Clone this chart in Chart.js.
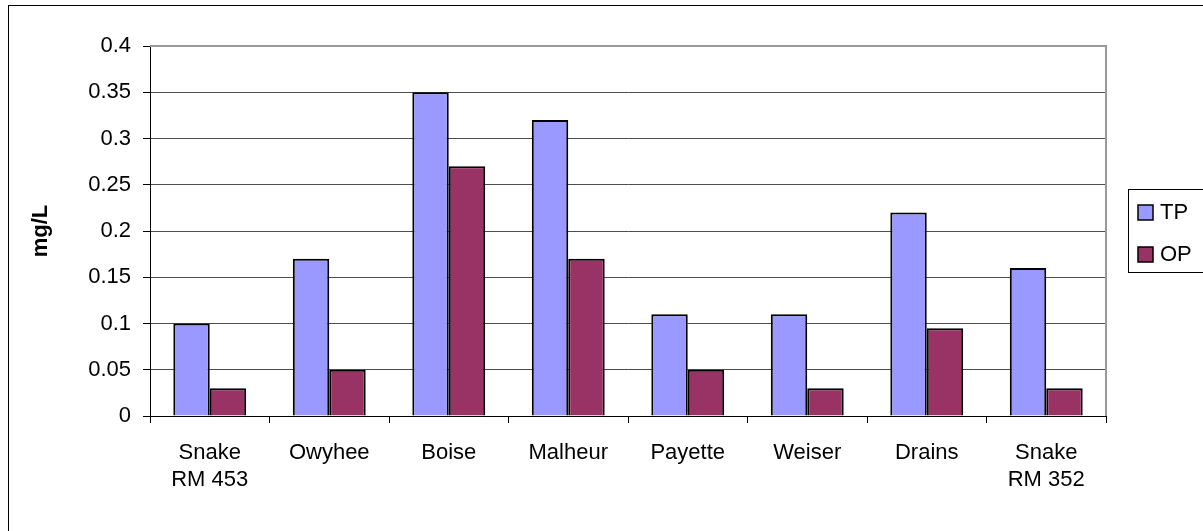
<!DOCTYPE html>
<html>
<head>
<meta charset="utf-8">
<script src="https://cdn.jsdelivr.net/npm/chart.js@4/dist/chart.umd.min.js"></script>
<style>
  body { margin: 0; background: #fff; }
  #wrap { width: 1203px; height: 531px; position: relative; }
</style>
</head>
<body>
<div id="wrap"><canvas id="myChart"></canvas></div>
<script>
const categories = [['Snake', 'RM 453'], 'Owyhee', 'Boise', 'Malheur', 'Payette', 'Weiser', 'Drains', ['Snake', 'RM 352']];
const tpValues = [0.10, 0.17, 0.35, 0.32, 0.11, 0.11, 0.22, 0.16];
const opValues = [0.03, 0.05, 0.27, 0.17, 0.05, 0.03, 0.095, 0.03];
const seriesNames = ['TP', 'OP'];
const seriesColors = ['#9999FF', '#993366'];
const yMin = 0;
const yMax = 0.4;
const yStep = 0.05;

const fontName = '"Liberation Sans", Arial, sans-serif';

// frame, plot border and the boxed legend on the right
const extras = {
    id: 'extras',
    beforeDraw(chart) {
        const c = chart.ctx;
        c.save();
        c.fillStyle = '#fff';
        c.fillRect(0, 0, chart.width, chart.height);
        c.restore();
    },
    afterDraw(chart) {
        const c = chart.ctx;
        const a = chart.chartArea;
        c.save();
        c.strokeStyle = '#000';
        c.lineWidth = 1;
        c.strokeRect(8.5, 5.5, chart.width + 20, chart.height + 20);

        c.strokeStyle = '#999';
        c.lineWidth = 2;
        c.beginPath();
        c.moveTo(a.left, a.top);
        c.lineTo(a.right, a.top);
        c.lineTo(a.right, a.bottom);
        c.stroke();

        c.strokeStyle = '#000';
        c.lineWidth = 1;
        c.strokeRect(1128.5, 189.5, 120, 83);

        const ds = chart.data.datasets;
        for (let i = 0; i < ds.length; i++) {
            const cy = 212 + i * 42;
            c.fillStyle = ds[i].backgroundColor;
            c.fillRect(1138, cy - 7, 15, 15);
            c.strokeStyle = '#000';
            c.lineWidth = 1.5;
            c.strokeRect(1138, cy - 7, 15, 15);
            c.fillStyle = '#000';
            c.font = '22px ' + fontName;
            c.textBaseline = 'middle';
            c.fillText(ds[i].label, 1160, cy + 1);
        }
        c.restore();
    }
};

const ctx = document.getElementById('myChart').getContext('2d');
const myChart = new Chart(ctx, {
    type: 'bar',
    data: {
        labels: categories,
        datasets: [
            {
                label: seriesNames[0],
                data: tpValues,
                backgroundColor: seriesColors[0],
                borderColor: '#000',
                borderWidth: 2,
                categoryPercentage: 0.61,
                barPercentage: 1.0
            },
            {
                label: seriesNames[1],
                data: opValues,
                backgroundColor: seriesColors[1],
                borderColor: '#000',
                borderWidth: 2,
                categoryPercentage: 0.61,
                barPercentage: 1.0
            }
        ]
    },
    options: {
        responsive: true,
        maintainAspectRatio: false,
        animation: false,
        layout: { padding: { top: 46, right: 97, left: 0, bottom: 0 } },
        plugins: {
            legend: { display: false },
            tooltip: { enabled: false }
        },
        scales: {
            x: {
                afterFit: function (s) { s.height = 115; },
                grid: {
                    drawOnChartArea: false,
                    offset: true,
                    tickLength: 7,
                    color: '#000'
                },
                border: { color: '#000', width: 1 },
                ticks: {
                    color: '#000',
                    font: { family: fontName, size: 22 },
                    padding: 17,
                    maxRotation: 0,
                    autoSkip: false
                }
            },
            y: {
                min: yMin,
                max: yMax,
                afterFit: function (s) { s.width = 150; },
                grid: {
                    color: '#4d4d4d',
                    tickLength: 7,
                    tickColor: '#000'
                },
                border: { color: '#000', width: 1 },
                ticks: {
                    stepSize: yStep,
                    color: '#000',
                    padding: 12,
                    font: { family: fontName, size: 22 },
                    callback: function (v) { return String(Number(v.toFixed(2))); }
                },
                title: {
                    display: true,
                    text: 'mg/L',
                    color: '#000',
                    font: { family: fontName, size: 22, weight: 'bold' },
                    padding: { top: 28, bottom: 0 }
                }
            }
        }
    },
    plugins: [extras]
});
</script>
</body>
</html>
